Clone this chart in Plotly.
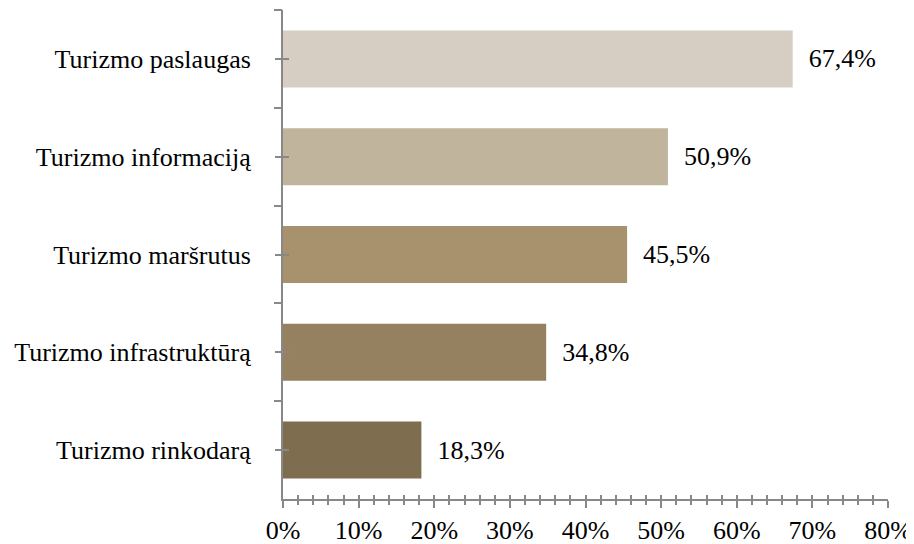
import plotly.graph_objects as go

categories = ["Turizmo paslaugas", "Turizmo informaciją", "Turizmo maršrutus",
              "Turizmo infrastruktūrą", "Turizmo rinkodarą"]
values = [67.4, 50.9, 45.5, 34.8, 18.3]
colors = ["#D6CEC3", "#C1B49C", "#A8926D", "#958160", "#7E6D4F"]
x_ticks = [0, 10, 20, 30, 40, 50, 60, 70, 80]
x_ticklabels = ["0%", "10%", "20%", "30%", "40%", "50%", "60%", "70%", "80%"]

FONT = "Liberation Serif"
AX = "#888888"
FS = 26

fig = go.Figure()
fig.add_trace(go.Bar(
    y=categories, x=values, orientation="h",
    marker=dict(color=colors, line=dict(width=0)),
    text=values, texttemplate="  %{x:.1f}%", textposition="outside",
    textfont=dict(family=FONT, size=FS, color="black"),
    cliponaxis=False, width=0.583,
))
fig.add_trace(go.Scatter(x=[], y=[], xaxis="x2", yaxis="y2", showlegend=False))
fig.add_trace(go.Scatter(x=[], y=[], xaxis="x3", yaxis="y3", showlegend=False))

# page body adds an 8px offset; margins compensate for it
fig.update_layout(
    width=914, height=544,
    margin=dict(l=275, r=34, t=2, b=53),
    paper_bgcolor="white", plot_bgcolor="white",
    separators=", ",
    showlegend=False,
    font=dict(family=FONT, size=FS, color="black"),
    xaxis=dict(range=[0, 80], tickmode="array", tickvals=x_ticks, ticktext=x_ticklabels,
               showgrid=False, zeroline=False, showline=True, linecolor=AX, linewidth=2,
               ticks="outside", ticklen=7, tickwidth=2, tickcolor=AX,
               minor=dict(dtick=2, ticks="outside", ticklen=4, tickwidth=1.5, tickcolor=AX),
               tickfont=dict(family=FONT, size=FS, color="black"),
               automargin=False, ticklabelstandoff=0),
    yaxis=dict(categoryorder="array", categoryarray=categories, autorange="reversed",
               showgrid=False, zeroline=False, showline=True, linecolor=AX, linewidth=2,
               ticks="outside", ticklen=6, tickwidth=2, tickcolor=AX,
               ticklabelstandoff=19, automargin=False,
               tickfont=dict(family=FONT, size=FS, color="black")),
    xaxis2=dict(overlaying="x", range=[0, 80], tickmode="array", tickvals=x_ticks,
                showticklabels=False, showgrid=False, zeroline=False, showline=False,
                ticks="inside", ticklen=4, tickwidth=2, tickcolor=AX,
                minor=dict(dtick=2, ticks="inside", ticklen=4, tickwidth=1.5, tickcolor=AX),
                anchor="y2", side="bottom", automargin=False),
    yaxis2=dict(overlaying="y", range=[4.5, -0.5], tickmode="array", tickvals=[0, 1, 2, 3, 4],
                showticklabels=False, showgrid=False, zeroline=False, showline=False,
                ticks="inside", ticklen=6, tickwidth=2, tickcolor=AX,
                anchor="x2", side="left", automargin=False),
    xaxis3=dict(overlaying="x", range=[0, 80], visible=False, anchor="y3", automargin=False),
    yaxis3=dict(overlaying="y", range=[4.5, -0.5], tickmode="array",
                tickvals=[-0.5, 0.5, 1.5, 2.5, 3.5],
                showticklabels=False, showgrid=False, zeroline=False, showline=False,
                ticks="outside", ticklen=8, tickwidth=2, tickcolor=AX,
                anchor="x3", side="left", automargin=False),
)

fig.write_html("out.html")
